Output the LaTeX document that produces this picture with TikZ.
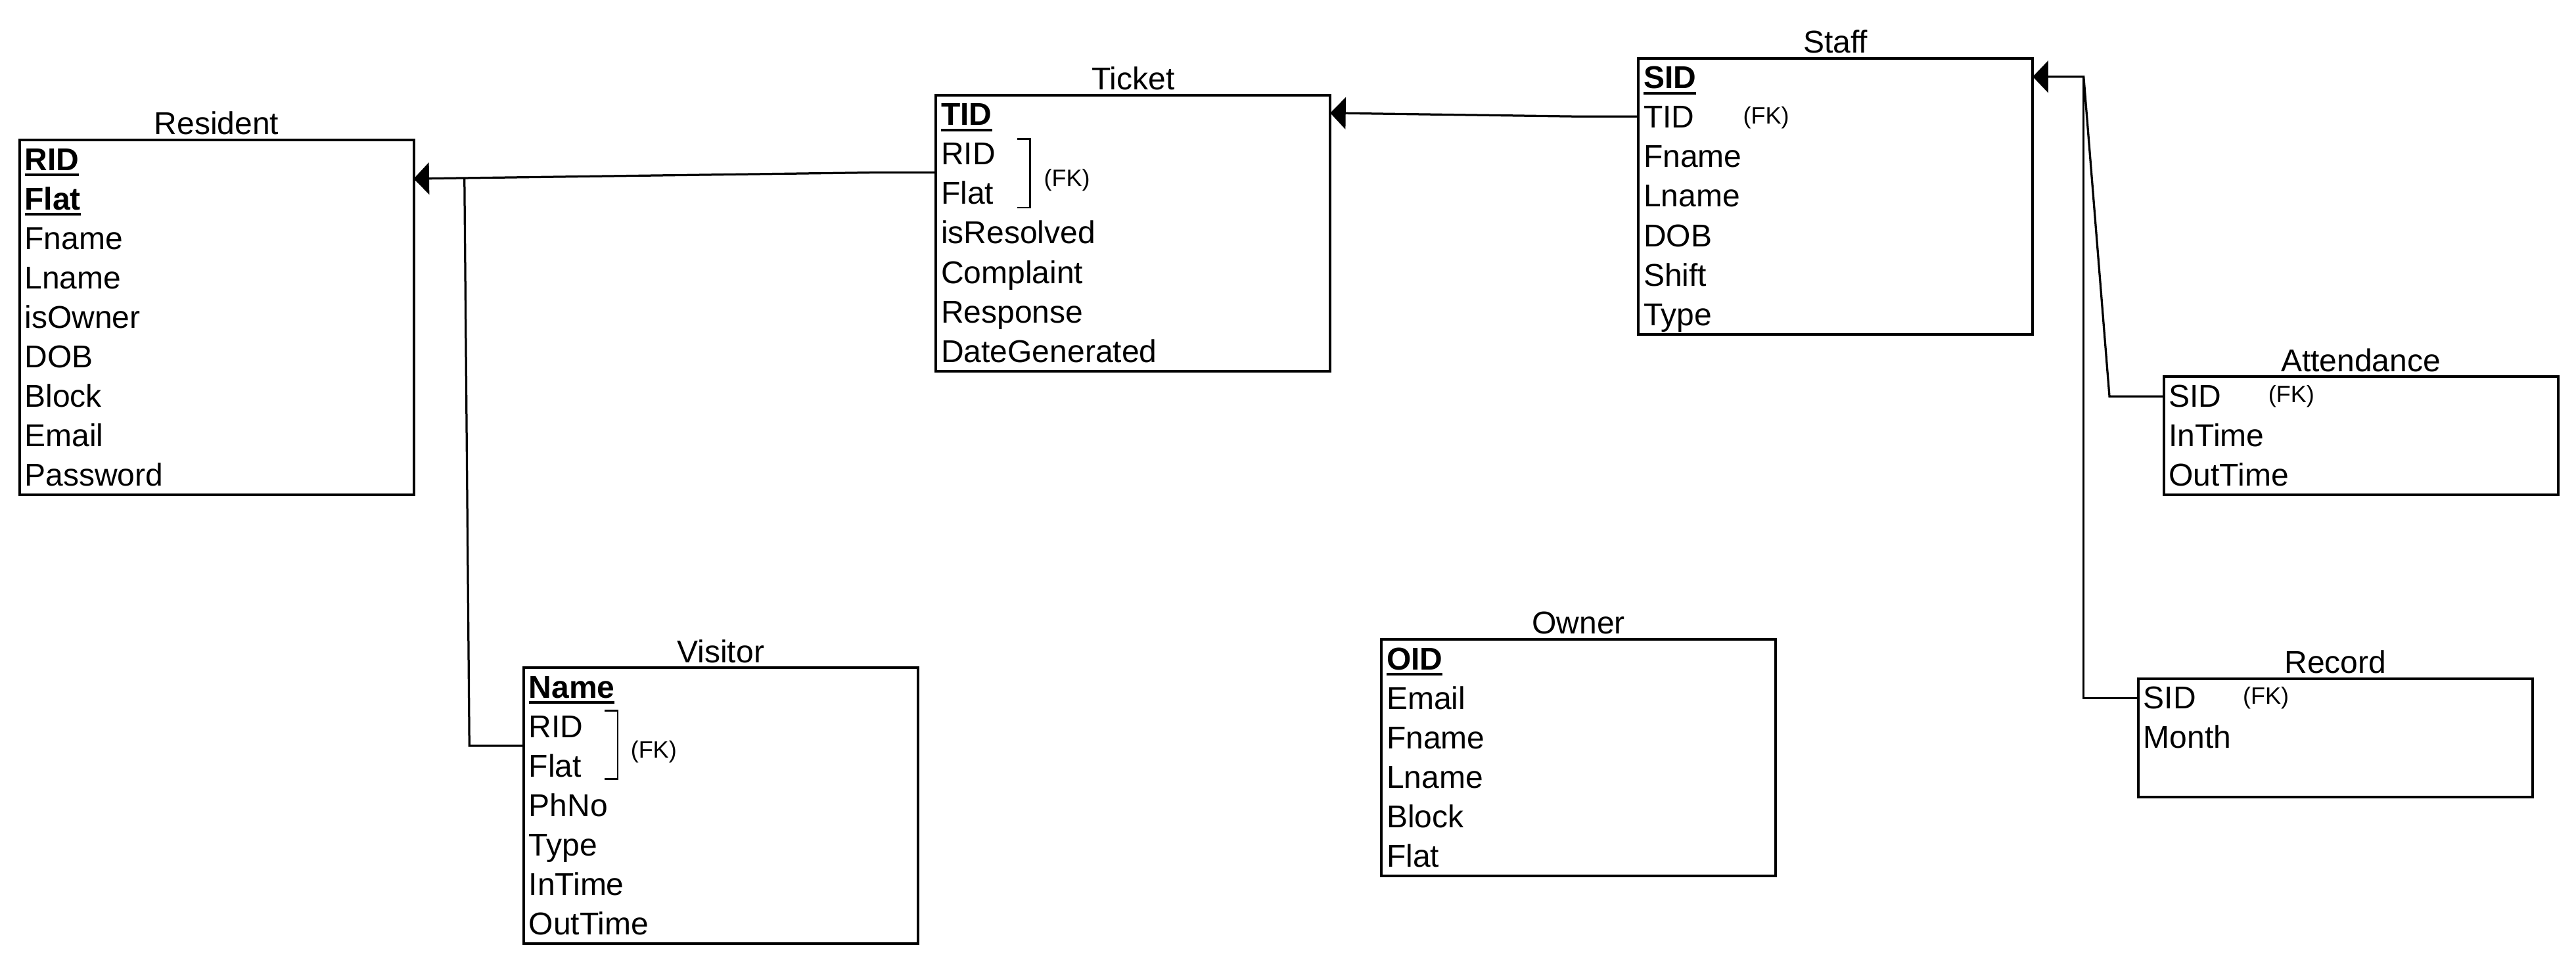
\documentclass[tikz,border=0pt]{standalone}
\usepackage{fontspec}
\setmainfont{Liberation Sans}
\usetikzlibrary{arrows.meta}

\newsavebox\pkbox
\newcommand{\pk}[1]{\sbox\pkbox{\bfseries #1}\rlap{\rule[-3.6pt]{\wd\pkbox}{1.6pt}}\usebox\pkbox}
\newcommand{\fksize}{\fontsize{14.4pt}{17pt}\selectfont}

\tikzset{
    tbl/.style={draw, line width=1.6pt, anchor=north west, minimum width=240pt, inner sep=0pt, outer sep=0pt},
    title/.style={anchor=base, inner sep=0pt},
    attr/.style={anchor=base west, inner sep=0pt},
    fknote/.style={font=\fksize, anchor=west, inner sep=0pt},
    bracket/.style={line width=1.1pt},
    fk/.style={line width=1.3pt},
    arrow/.style={-{Triangle[length=9.4pt,width=19.4pt]}}
}

\begin{document}
\begin{tikzpicture}[x=1pt,y=-1pt,font=\fontsize{19.2pt}{24pt}\selectfont]
        \useasboundingbox (0,0) rectangle (1568,585.6);

        % resident
        \node[tbl, minimum height=216pt] (resident) at (11.8,85.3) {};
        \node[title] (resident-title) at ([yshift=3.3pt]resident.north) {Resident};
        \foreach \txt [count=\i from 0] in {\pk{RID},\pk{Flat},Fname,Lname,isOwner,DOB,Block,Email,Password}
            \node[attr] (resident-r\i) at ([xshift=3pt,yshift=-18.4pt-\i*24pt]resident.north west) {\txt};

        % ticket
        \node[tbl, minimum height=168pt] (ticket) at (569.7,58) {};
        \node[title] (ticket-title) at ([yshift=3.3pt]ticket.north) {Ticket};
        \foreach \txt [count=\i from 0] in {\pk{TID},RID,Flat,isResolved,Complaint,Response,DateGenerated}
            \node[attr] (ticket-r\i) at ([xshift=3pt,yshift=-18.4pt-\i*24pt]ticket.north west) {\txt};
        \draw[bracket] ([xshift=49.3pt,yshift=-26.6pt]ticket.north west) -- ++(8,0) -- ++(0,41.8) -- ++(-8,0);
        \node[fknote] (ticket-fk) at ([xshift=65.5pt,yshift=-51.5pt]ticket.north west) {(FK)};

        % staff
        \node[tbl, minimum height=168pt] (staff) at (997.3,35.6) {};
        \node[title] (staff-title) at ([yshift=3.3pt]staff.north) {Staff};
        \foreach \txt [count=\i from 0] in {\pk{SID},TID,Fname,Lname,DOB,Shift,Type}
            \node[attr] (staff-r\i) at ([xshift=3pt,yshift=-18.4pt-\i*24pt]staff.north west) {\txt};
        \node[fknote] (staff-fk) at ([xshift=63.5pt,yshift=-36pt]staff.north west) {(FK)};

        % attendance
        \node[tbl, minimum height=72pt] (attendance) at (1317,229.3) {};
        \node[title] (attendance-title) at ([yshift=3.3pt]attendance.north) {Attendance};
        \foreach \txt [count=\i from 0] in {SID,InTime,OutTime}
            \node[attr] (attendance-r\i) at ([xshift=3pt,yshift=-18.4pt-\i*24pt]attendance.north west) {\txt};
        \node[fknote] (attendance-fk) at ([xshift=63.5pt,yshift=-12pt]attendance.north west) {(FK)};

        % record
        \node[tbl, minimum height=72pt] (record) at (1301.5,413) {};
        \node[title] (record-title) at ([yshift=3.3pt]record.north) {Record};
        \foreach \txt [count=\i from 0] in {SID,Month}
            \node[attr] (record-r\i) at ([xshift=3pt,yshift=-18.4pt-\i*24pt]record.north west) {\txt};
        \node[fknote] (record-fk) at ([xshift=63.5pt,yshift=-12pt]record.north west) {(FK)};

        % owner
        \node[tbl, minimum height=144pt] (owner) at (840.8,389.2) {};
        \node[title] (owner-title) at ([yshift=3.3pt]owner.north) {Owner};
        \foreach \txt [count=\i from 0] in {\pk{OID},Email,Fname,Lname,Block,Flat}
            \node[attr] (owner-r\i) at ([xshift=3pt,yshift=-18.4pt-\i*24pt]owner.north west) {\txt};

        % visitor
        \node[tbl, minimum height=168pt] (visitor) at (318.7,406.5) {};
        \node[title] (visitor-title) at ([yshift=3.3pt]visitor.north) {Visitor};
        \foreach \txt [count=\i from 0] in {\pk{Name},RID,Flat,PhNo,Type,InTime,OutTime}
            \node[attr] (visitor-r\i) at ([xshift=3pt,yshift=-18.4pt-\i*24pt]visitor.north west) {\txt};
        \draw[bracket] ([xshift=49.3pt,yshift=-26.2pt]visitor.north west) -- ++(8,0) -- ++(0,41.6) -- ++(-8,0);
        \node[fknote] (visitor-fk) at ([xshift=65pt,yshift=-51pt]visitor.north west) {(FK)};

        % foreign keys
        \coordinate (tk-bend) at (533,105);
        \coordinate (vis-bend) at (285.7,454);
        \coordinate (vis-top) at (282.7,108.4);
        \coordinate (st-bend) at (960,70.9);
        \coordinate (att-bend) at (1284,241.3);
        \coordinate (rec-bend) at (1268.3,425);
        \coordinate (staff-in) at (1268.3,46.7);
        \draw[fk,arrow] ([yshift=-47pt]ticket.north west) -- (tk-bend) -- ([yshift=-23.5pt]resident.north east);
        \draw[fk] ([yshift=-47.5pt]visitor.north west) -- (vis-bend) -- (vis-top);
        \draw[fk,arrow] ([yshift=-35.3pt]staff.north west) -- (st-bend) -- ([yshift=-10.8pt]ticket.north east);
        \draw[fk,arrow] ([yshift=-12pt]attendance.north west) -- (att-bend) -- (staff-in) -- ([yshift=-11.1pt]staff.north east);
        \draw[fk] ([yshift=-12pt]record.north west) -- (rec-bend) -- (staff-in);
    \end{tikzpicture}
\end{document}
